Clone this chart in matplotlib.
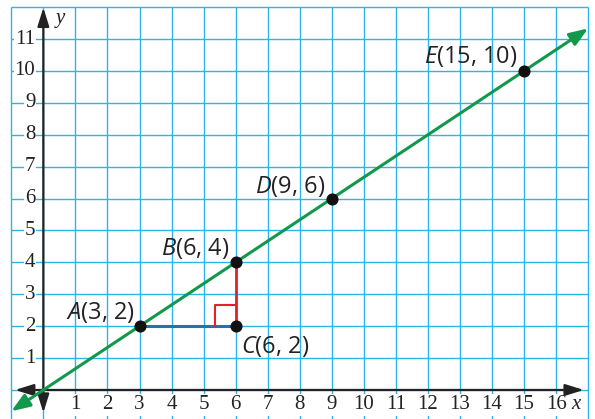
import matplotlib
matplotlib.use("Agg")
import matplotlib.pyplot as plt
from matplotlib.patches import FancyArrowPatch

# points on the line
names = ["A", "B", "C", "D", "E"]
pts_x = [3, 6, 6, 9, 15]
pts_y = [2, 4, 2, 6, 10]
# label offsets in pixels (dx, dy) and alignment
offsets = [(-5, 7), (-6, 7), (5, -27), (-7, 6), (-7, 8)]
aligns = ["right", "right", "left", "right", "right"]

# green line ends (y = 2x/3)
line_x = [-1, 17]
line_y = [-0.667, 11.333]
# run and rise segments
run_x, run_y = [3, 6], [2, 2]
rise_x, rise_y = [6, 6], [2, 4]
# right angle box
box_x = [5.35, 5.35, 6]
box_y = [2, 2.65, 2.65]

x_ticks = list(range(1, 17))
y_ticks = list(range(1, 12))

grid_col = "#2cb5e9"
plt.rcParams["mathtext.fontset"] = "custom"
plt.rcParams["mathtext.it"] = "Open Sans:italic"
plt.rcParams["mathtext.rm"] = "Open Sans"

fig = plt.figure(figsize=(5.95, 4.19), dpi=100)
ax = fig.add_axes([11.3 / 595, 0, 18 * 32.05 / 595, 0.983])
ax.set_xlim(-1, 17)
ax.set_ylim(-0.91, 12)
ax.axis("off")

# grid
ax.vlines(range(-1, 18), -0.91, 12, color=grid_col, lw=1.0, clip_on=False, zorder=1)
ax.hlines(range(0, 13), -1, 17, color=grid_col, lw=1.0, clip_on=False, zorder=1)

# axes with arrows
ax.add_patch(FancyArrowPatch((-0.97, 0), (16.95, 0), arrowstyle="<|-|>,head_length=0.8,head_width=0.25",
                             mutation_scale=14, color="#222222", lw=1.6, zorder=3, clip_on=False))
ax.add_patch(FancyArrowPatch((0, -0.8), (0, 12.07), arrowstyle="<|-|>,head_length=0.8,head_width=0.25",
                             mutation_scale=14, color="#222222", lw=1.6, zorder=3, clip_on=False))

tick_font = dict(family="Liberation Serif", fontsize=15, color="#222222")
box = dict(facecolor="white", edgecolor="none", pad=0.8)
for v in x_ticks:
    ax.text(v, -0.47, str(v), ha="center", va="center", bbox=box, zorder=2, **tick_font)
for v in y_ticks:
    ax.text(-0.25, v, str(v), ha="right", va="center", bbox=box, zorder=2, **tick_font)
ax.text(16.63, -0.47, "x", ha="center", va="center", style="italic", bbox=box, zorder=2, **tick_font)
ax.text(0.53, 11.65, "y", ha="center", va="center", style="italic", zorder=2, **tick_font)

# the line
ax.add_patch(FancyArrowPatch((line_x[0], line_y[0]), (line_x[1], line_y[1]),
                             arrowstyle="<|-|>,head_length=0.8,head_width=0.3", mutation_scale=14,
                             color="#12984a", lw=2.2, zorder=4, clip_on=False, shrinkA=0, shrinkB=0))

ax.plot(run_x, run_y, color="#2170b8", lw=2.2, zorder=4)
ax.plot(rise_x, rise_y, color="#e5202e", lw=2.0, zorder=4)
ax.plot(box_x, box_y, color="#e5202e", lw=1.5, zorder=4)

ax.plot(pts_x, pts_y, "o", color="#111111", ms=7.7, zorder=5)

for n, x, y, off, ha in zip(names, pts_x, pts_y, offsets, aligns):
    ax.annotate(r"$\mathit{%s}$(%d, %d)" % (n, x, y), (x, y), xytext=off, textcoords="offset pixels",
                ha=ha, va="baseline", fontsize=17, family="Open Sans", color="#222222", zorder=6)

fig.savefig("out.png", dpi=100)
